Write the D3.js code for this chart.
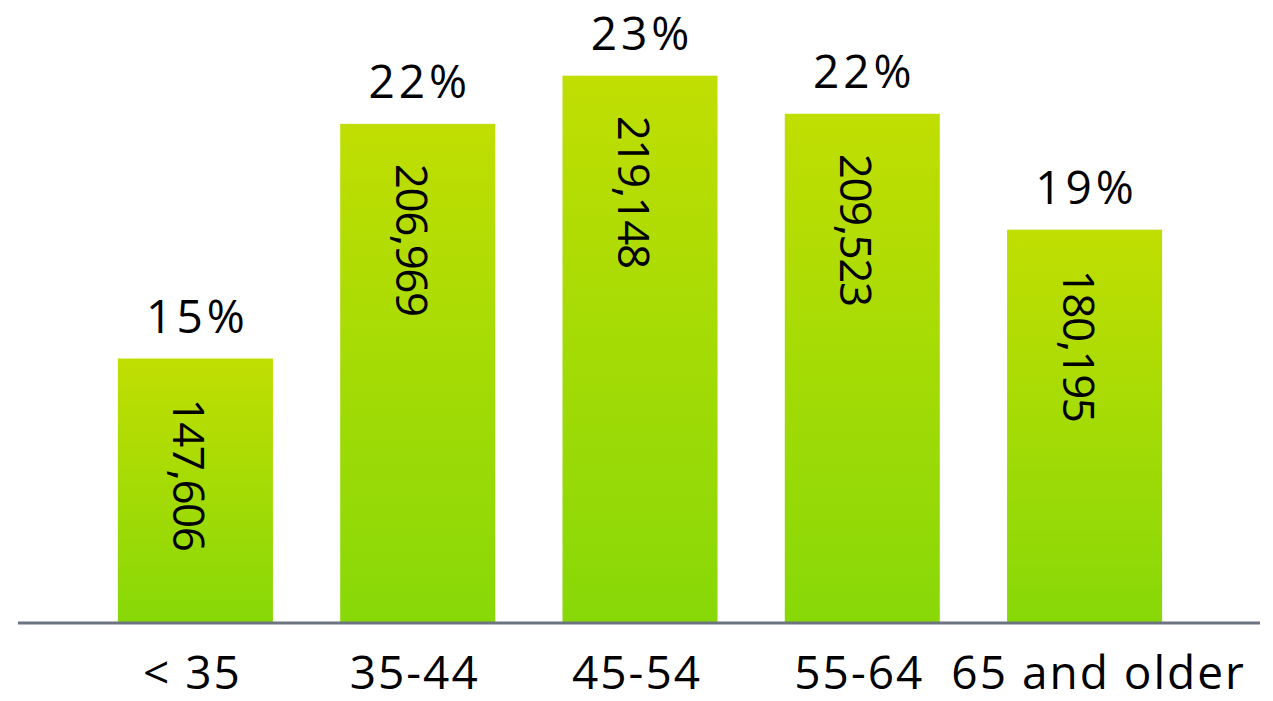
<!DOCTYPE html>
<html>
<head>
<meta charset="utf-8">
<script src="https://cdn.jsdelivr.net/npm/d3@7"></script>
<style>
html,body{margin:0;padding:0;background:#fff;}
svg{display:block;}
text{font-family:"Open Sans",sans-serif;fill:#000;}
</style>
</head>
<body>
<svg id="chart" width="1273" height="701"></svg>
<script>
const categories = ["< 35", "35-44", "45-54", "55-64", "65 and older"];
const counts = [147606, 206969, 219148, 209523, 180195];
const percents = ["15%", "22%", "23%", "22%", "19%"];

const W = 1273, H = 701;
const baseY = 623;
const svg = d3.select("#chart");

const defs = svg.append("defs");
const grad = defs.append("linearGradient").attr("id", "barGrad")
  .attr("x1", 0).attr("y1", 0).attr("x2", 0).attr("y2", 1);
grad.append("stop").attr("offset", "0%").attr("stop-color", "#c0de02");
grad.append("stop").attr("offset", "100%").attr("stop-color", "#88d808");

const x = d3.scaleBand().domain(categories).range([19, 1261])
  .paddingInner(0.3026).paddingOuter(0.445);
const y = d3.scaleLinear().domain([80700, 238300]).range([baseY, 0]);

const data = categories.map((c, i) => ({c, v: counts[i], p: percents[i]}));

svg.selectAll("rect.bar").data(data).enter().append("rect")
  .attr("class", "bar")
  .attr("x", d => x(d.c))
  .attr("y", d => y(d.v))
  .attr("width", x.bandwidth())
  .attr("height", d => baseY - y(d.v))
  .attr("fill", "url(#barGrad)");

svg.selectAll("text.pct").data(data).enter().append("text")
  .attr("class", "pct")
  .attr("x", d => x(d.c) + x.bandwidth() / 2 + 2)
  .attr("y", d => y(d.v) - 26)
  .attr("text-anchor", "middle")
  .style("font-size", "46px")
  .style("letter-spacing", "4px")
  .text(d => d.p);

const fmt = d3.format(",");
svg.selectAll("text.val").data(data).enter().append("text")
  .attr("class", "val")
  .attr("transform", d => `translate(${x(d.c) + x.bandwidth() / 2 - 22},${y(d.v) + 40}) rotate(90)`)
  .attr("text-anchor", "start")
  .style("font-size", "44px")
  .style("letter-spacing", "-1.5px")
  .text(d => fmt(d.v));

// axis
const axis = d3.axisBottom(x).tickSize(0).tickPadding(0);
const g = svg.append("g").attr("transform", `translate(0,${baseY})`).call(axis);
g.select(".domain").attr("d", "M18,0H1260").attr("stroke", "#6b7480").attr("stroke-width", 3);
g.selectAll(".tick text")
  .attr("y", 66)
  .attr("dy", 0)
  .attr("dx", (d, i) => i === categories.length - 1 ? 14 : -3)
  .style("font-family", "'Open Sans',sans-serif")
  .style("font-size", "46px")
  .style("letter-spacing", "2px")
  .attr("fill", "#000");
</script>
</body>
</html>
